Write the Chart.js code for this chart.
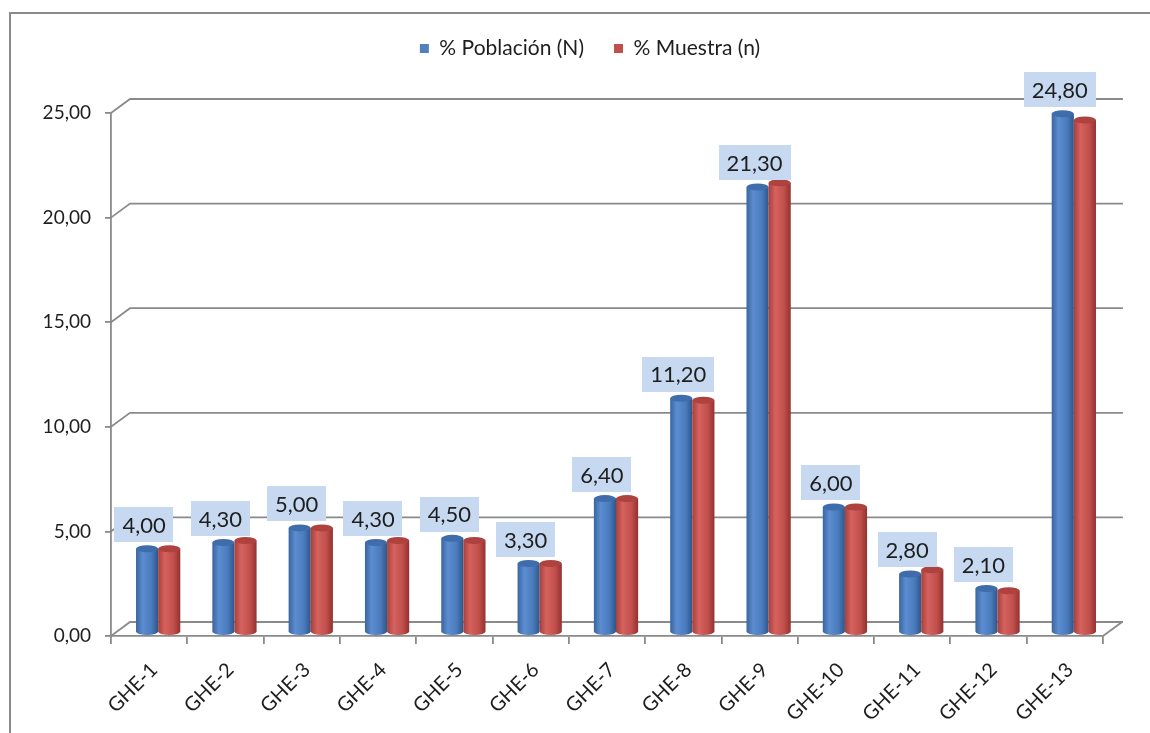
<!DOCTYPE html>
<html lang="es">
<head>
<meta charset="utf-8">
<title>% Población (N) y % Muestra (n) por GHE</title>
<script src="https://cdn.jsdelivr.net/npm/chart.js@4.4.1/dist/chart.umd.min.js"></script>
<style>
  html, body { margin: 0; padding: 0; background: #ffffff; }
  #wrap { position: relative; width: 1150px; height: 733px; overflow: hidden; }
  canvas { display: block; }
</style>
</head>
<body>
<div id="wrap"><canvas id="chart" width="1150" height="733"></canvas></div>
<script>
// Grupos homogéneos de exposición
const categories = ['GHE-1', 'GHE-2', 'GHE-3', 'GHE-4', 'GHE-5', 'GHE-6', 'GHE-7',
                    'GHE-8', 'GHE-9', 'GHE-10', 'GHE-11', 'GHE-12', 'GHE-13'];
const poblacion = [4.00, 4.30, 5.00, 4.30, 4.50, 3.30, 6.40, 11.20, 21.30, 6.00, 2.80, 2.10, 24.80];
const muestra   = [4.00, 4.40, 5.00, 4.40, 4.40, 3.30, 6.40, 11.10, 21.50, 6.00, 3.00, 2.00, 24.50];
const yTicks    = [0, 5, 10, 15, 20, 25];

const FONT = 'Lato, "Open Sans", "DejaVu Sans", sans-serif';
const TEXT = '#1e1e1e';
const LINE = '#8a8a8a';

// 3D look: depth offset of the back wall and of the bars (mid-depth)
const DEPTH = { dx: 19, dy: -14 };
const BAR_SHIFT = { dx: 9, dy: -3.5 };
const CAP_RY = 3.5;

const palettes = [
  { edge: '#3a659e', light: '#5b8dd1', mid: '#4a7bbd', dark: '#2e5689', cap: '#3f6dab' },
  { edge: '#a83f3c', light: '#d5625e', mid: '#c14f4c', dark: '#93312f', cap: '#ae423f' }
];

const fmt = v => v.toFixed(2).replace('.', ',');

function drawCylinder(ctx, cx, top, base, w, pal) {
  const rx = w / 2, ry = CAP_RY;
  const l = cx - rx, r = cx + rx;
  const g = ctx.createLinearGradient(l, 0, r, 0);
  g.addColorStop(0, pal.edge);
  g.addColorStop(0.3, pal.light);
  g.addColorStop(0.7, pal.mid);
  g.addColorStop(1, pal.dark);
  ctx.fillStyle = g;
  ctx.beginPath();
  ctx.moveTo(l, top);
  ctx.lineTo(l, base);
  ctx.ellipse(cx, base, rx, ry, 0, Math.PI, 0, true);
  ctx.lineTo(r, top);
  ctx.closePath();
  ctx.fill();
  ctx.fillStyle = pal.cap;
  ctx.beginPath();
  ctx.ellipse(cx, top, rx, ry, 0, 0, Math.PI * 2);
  ctx.fill();
}

// Outer frame, back wall gridlines, floor, cylinders and value boxes
const wallPlugin = {
  id: 'wall',
  beforeDraw(chart) {
    const ctx = chart.ctx;
    ctx.save();
    ctx.strokeStyle = '#8a8a8a';
    ctx.lineWidth = 2;
    ctx.beginPath();
    ctx.moveTo(10, 740);
    ctx.lineTo(10, 13);
    ctx.lineTo(1160, 13);
    ctx.stroke();
    ctx.restore();
  },
  beforeDatasetsDraw(chart) {
    const { ctx, chartArea: a, scales: { y } } = chart;
    ctx.save();
    ctx.strokeStyle = LINE;
    ctx.lineWidth = 1.8;
    ctx.lineCap = 'square';
    yTicks.forEach(v => {
      const py = y.getPixelForValue(v);
      ctx.beginPath();
      ctx.moveTo(a.left, py);
      ctx.lineTo(a.left + DEPTH.dx, py + DEPTH.dy);
      ctx.lineTo(a.right + DEPTH.dx, py + DEPTH.dy);
      ctx.stroke();
    });
    // right edge of the floor
    ctx.beginPath();
    ctx.moveTo(a.right, a.bottom);
    ctx.lineTo(a.right + DEPTH.dx, a.bottom + DEPTH.dy);
    ctx.stroke();
    ctx.restore();

    // cylinders, drawn from the bar elements laid out by the scales
    ctx.save();
    ctx.translate(BAR_SHIFT.dx, BAR_SHIFT.dy);
    chart.data.datasets.forEach((ds, i) => {
      const meta = chart.getDatasetMeta(i);
      if (meta.hidden) return;
      meta.data.forEach(el => {
        const p = el.getProps(['x', 'y', 'base', 'width'], true);
        drawCylinder(ctx, p.x, p.y, p.base, p.width, palettes[i]);
      });
    });
    ctx.restore();
    return false;
  },
  afterDraw(chart) {
    const { ctx } = chart;
    const meta = chart.getDatasetMeta(0);
    ctx.save();
    ctx.font = '22px ' + FONT;
    ctx.textAlign = 'center';
    ctx.textBaseline = 'middle';
    meta.data.forEach((el, i) => {
      const p = el.getProps(['x', 'y'], true);
      const txt = fmt(poblacion[i]);
      const w = ctx.measureText(txt).width + 16;
      const h = 35;
      const cx = p.x + BAR_SHIFT.dx - 3;
      const bottom = p.y + BAR_SHIFT.dy - CAP_RY - 3;
      ctx.fillStyle = '#c6d9f1';
      ctx.fillRect(Math.round(cx - w / 2), Math.round(bottom - h), Math.round(w), h);
      ctx.fillStyle = TEXT;
      ctx.fillText(txt, cx, bottom - h / 2 + 1);
    });
    ctx.restore();
  }
};

new Chart(document.getElementById('chart'), {
  type: 'bar',
  data: {
    labels: categories,
    datasets: [
      { label: '% Población (N)', data: poblacion, backgroundColor: '#4f81bd',
        categoryPercentage: 0.58, barPercentage: 1.0 },
      { label: '% Muestra (n)', data: muestra, backgroundColor: '#c0504d',
        categoryPercentage: 0.58, barPercentage: 1.0 }
    ]
  },
  options: {
    responsive: false,
    animation: false,
    devicePixelRatio: 1,
    layout: { padding: { left: 30, right: 0, top: 5, bottom: 0 } },
    plugins: {
      legend: {
        position: 'top',
        weight: 1000,
        labels: {
          boxWidth: 9, boxHeight: 9, padding: 30,
          color: TEXT, font: { family: FONT, size: 21 }
        }
      },
      // empty block between the legend and the plot: only spacing
      title: {
        display: true, text: '', position: 'top', weight: 500,
        font: { size: 10, lineHeight: 1 }, padding: { top: 0, bottom: 34 }
      },
      tooltip: { enabled: false }
    },
    scales: {
      x: {
        grid: { display: true, drawOnChartArea: false, drawTicks: true, tickLength: 8,
                color: LINE, lineWidth: 1.8, offset: true },
        border: { display: true, color: LINE, width: 1.8 },
        ticks: { autoSkip: false, minRotation: 45, maxRotation: 45, padding: 14, labelOffset: 5,
                 color: TEXT, font: { family: FONT, size: 20 } },
        afterFit(scale) {
          scale.paddingLeft = 0;
          scale.paddingRight = 47;
          scale.height = 97;
        }
      },
      y: {
        min: 0, max: 25,
        afterBuildTicks(scale) { scale.ticks = yTicks.map(v => ({ value: v })); },
        grid: { display: true, drawOnChartArea: false, drawTicks: true, tickLength: 6,
                color: LINE, lineWidth: 1.8 },
        border: { display: true, color: LINE, width: 1.8 },
        ticks: { padding: 14, color: TEXT, font: { family: FONT, size: 19 },
                 callback: v => fmt(v) },
        afterFit(scale) {
          scale.width = 81;
          scale.paddingTop = 113;
          scale.paddingBottom = 0;
        }
      }
    }
  },
  plugins: [wallPlugin]
});
</script>
</body>
</html>
